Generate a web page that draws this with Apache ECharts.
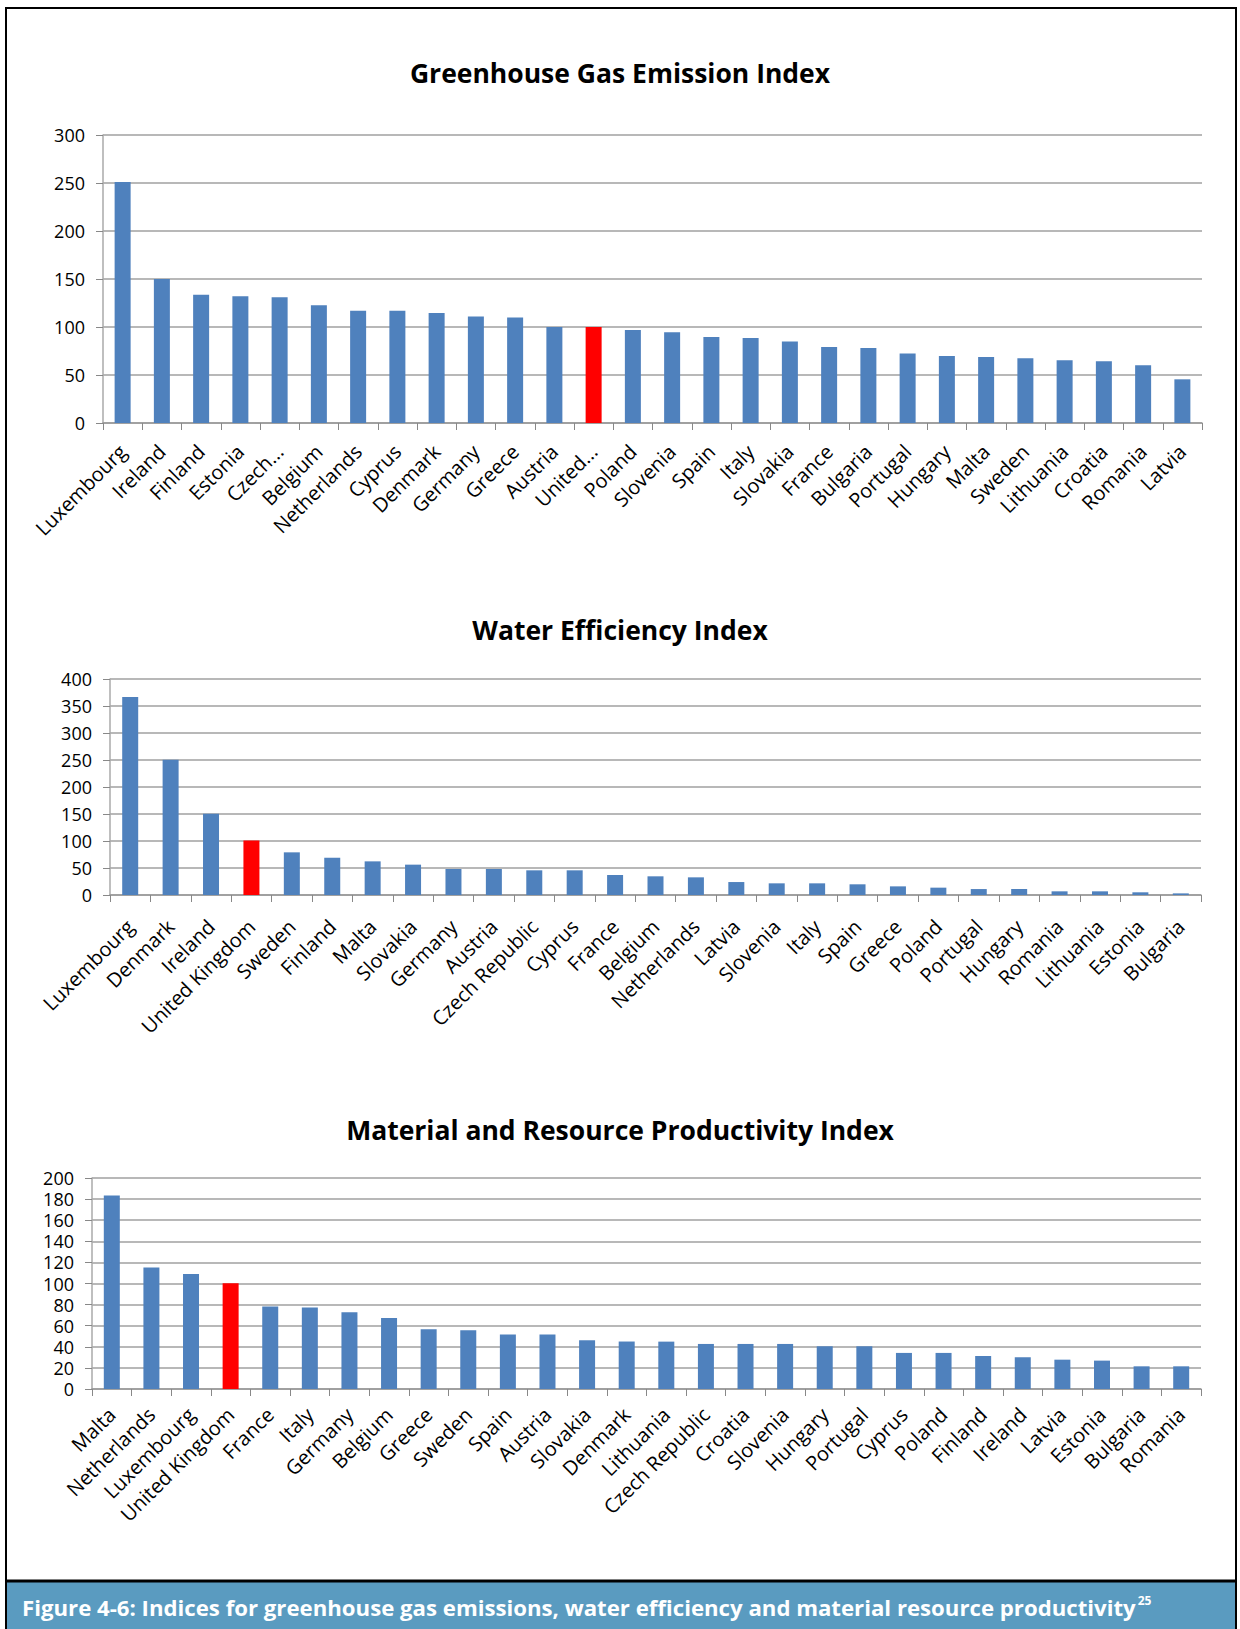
<!DOCTYPE html>
<html>
<head>
<meta charset="utf-8">
<script src="https://cdn.jsdelivr.net/npm/echarts@6/dist/echarts.min.js"></script>
<style>
html, body { margin: 0; padding: 0; background: #fff; }
#chart { width: 1240px; height: 1629px; }
</style>
</head>
<body>
<div id="chart"></div>
<script>
// greenhouse gas emission index
const ghgCountries = ['Luxembourg', 'Ireland', 'Finland', 'Estonia', 'Czech...', 'Belgium', 'Netherlands', 'Cyprus',
  'Denmark', 'Germany', 'Greece', 'Austria', 'United...', 'Poland', 'Slovenia', 'Spain', 'Italy', 'Slovakia',
  'France', 'Bulgaria', 'Portugal', 'Hungary', 'Malta', 'Sweden', 'Lithuania', 'Croatia', 'Romania', 'Latvia'];
const ghgValues = [251, 150, 133.5, 132, 131, 122.7, 117, 117, 114.7, 111, 110, 100, 100, 97, 94.5, 89.7, 88.6,
  84.8, 79.2, 78.2, 72.3, 69.9, 68.8, 67.4, 65.3, 64.3, 60.1, 45.5];

// water efficiency index
const waterCountries = ['Luxembourg', 'Denmark', 'Ireland', 'United Kingdom', 'Sweden', 'Finland', 'Malta', 'Slovakia',
  'Germany', 'Austria', 'Czech Republic', 'Cyprus', 'France', 'Belgium', 'Netherlands', 'Latvia', 'Slovenia', 'Italy',
  'Spain', 'Greece', 'Poland', 'Portugal', 'Hungary', 'Romania', 'Lithuania', 'Estonia', 'Bulgaria'];
const waterValues = [366.7, 250.6, 150.6, 101, 79, 69, 62.3, 56.2, 48.1, 48.1, 45.7, 45.7, 37, 34.6, 32.7, 24,
  21.6, 21.6, 19.8, 16, 13.6, 11, 11, 6.8, 6.8, 5, 3];

// material and resource productivity index
const matCountries = ['Malta', 'Netherlands', 'Luxembourg', 'United Kingdom', 'France', 'Italy', 'Germany', 'Belgium',
  'Greece', 'Sweden', 'Spain', 'Austria', 'Slovakia', 'Denmark', 'Lithuania', 'Czech Republic', 'Croatia', 'Slovenia',
  'Hungary', 'Portugal', 'Cyprus', 'Poland', 'Finland', 'Ireland', 'Latvia', 'Estonia', 'Bulgaria', 'Romania'];
const matValues = [183.5, 115.2, 108.9, 100.3, 78.2, 77.2, 72.8, 67.4, 56.6, 55.7, 51.6, 51.6, 46.2, 45, 44.9,
  42.7, 42.7, 42.7, 40.5, 40.5, 34.2, 34.2, 31.3, 30.1, 27.8, 26.9, 21.5, 21.5];

const titles = ['Greenhouse Gas Emission Index', 'Water Efficiency Index', 'Material and Resource Productivity Index'];
const caption = 'Figure 4-6: Indices for greenhouse gas emissions, water efficiency and material resource productivity';

const BLUE = '#4F81BD';
const RED = '#FF0000';
const FONT = '"Open Sans", sans-serif';

const colorize = (names, values) => values.map((v, i) => ({
  value: v,
  itemStyle: { color: names[i].indexOf('United') === 0 ? RED : BLUE }
}));

const grids = [
  { left: 103, top: 135, width: 1099, height: 288 },
  { left: 110, top: 679, width: 1091, height: 216 },
  { left: 92, top: 1178, width: 1109, height: 211 }
];

const xAxisBase = (idx, names, margin) => ({
  type: 'category',
  gridIndex: idx,
  data: names,
  axisLine: { lineStyle: { color: '#999', width: 1.5 } },
  axisTick: { show: true, length: 7, interval: 0, lineStyle: { color: '#888' } },
  axisLabel: { interval: 0, rotate: 45, fontSize: 20, color: '#000', fontFamily: FONT, margin: margin }
});

const yAxisBase = (idx, max, interval) => ({
  type: 'value',
  gridIndex: idx,
  min: 0,
  max: max,
  interval: interval,
  axisLine: { show: true, lineStyle: { color: '#aaa', width: 1.5 } },
  axisTick: { show: true, length: 7, lineStyle: { color: '#888' } },
  axisLabel: { fontSize: 18, color: '#000', fontFamily: FONT, margin: 18 },
  splitLine: { lineStyle: { color: '#a0a0a0', width: 1.5 } }
});

const chart = echarts.init(document.getElementById('chart'), null, { renderer: 'svg' });

chart.setOption({
  backgroundColor: '#fff',
  animation: false,
  title: [
    { text: titles[0], left: 'center', top: 54 },
    { text: titles[1], left: 'center', top: 611 },
    { text: titles[2], left: 'center', top: 1111 }
  ].map(t => Object.assign(t, {
    textStyle: { fontFamily: FONT, fontWeight: 'bold', fontSize: 26.5, color: '#000' }
  })),
  grid: grids,
  xAxis: [xAxisBase(0, ghgCountries, 25), xAxisBase(1, waterCountries, 28), xAxisBase(2, matCountries, 22)],
  yAxis: [yAxisBase(0, 300, 50), yAxisBase(1, 400, 50), yAxisBase(2, 200, 20)],
  series: [
    { type: 'bar', xAxisIndex: 0, yAxisIndex: 0, barWidth: 16, data: colorize(ghgCountries, ghgValues) },
    { type: 'bar', xAxisIndex: 1, yAxisIndex: 1, barWidth: 16, data: colorize(waterCountries, waterValues) },
    { type: 'bar', xAxisIndex: 2, yAxisIndex: 2, barWidth: 16, data: colorize(matCountries, matValues) }
  ],
  graphic: [
    // frame
    { type: 'rect', shape: { x: 6, y: 8, width: 1230, height: 1630 }, style: { fill: 'none', stroke: '#000', lineWidth: 2 } },
    // caption band
    { type: 'rect', shape: { x: 7, y: 1582, width: 1228, height: 47 }, style: { fill: '#5A9BC0' } },
    { type: 'line', shape: { x1: 6, y1: 1581, x2: 1236, y2: 1581 }, style: { stroke: '#000', lineWidth: 3 } },
    {
      type: 'text', left: 22, top: 1594,
      style: {
        text: '{m|' + caption + '}{s|25}',
        rich: {
          m: { fontFamily: FONT, fontWeight: 'bold', fontSize: 22.2, fill: '#fff' },
          s: { fontFamily: FONT, fontWeight: 'bold', fontSize: 12, fill: '#fff', verticalAlign: 'top', padding: [0, 0, 14, 2] }
        }
      }
    }
  ]
});
</script>
</body>
</html>
